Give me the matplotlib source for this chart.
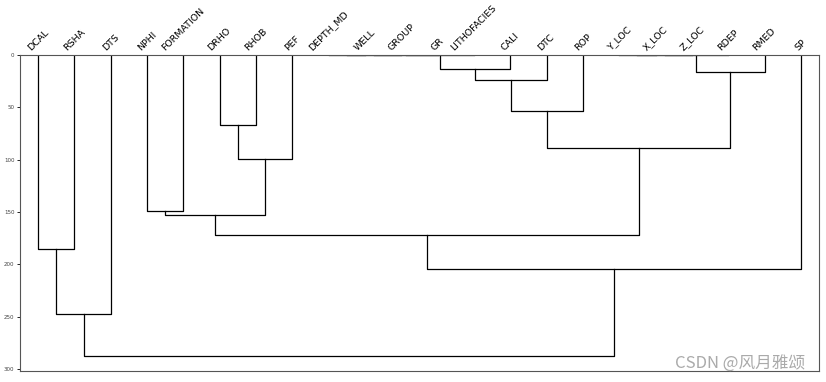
import matplotlib.pyplot as plt

# 열 이름 (덴드로그램 잎 순서)
labels = ['DCAL', 'RSHA', 'DTS', 'NPHI', 'FORMATION', 'DRHO', 'RHOB', 'PEF',
          'DEPTH_MD', 'WELL', 'GROUP', 'GR', 'LITHOFACIES', 'CALI', 'DTC', 'ROP',
          'Y_LOC', 'X_LOC', 'Z_LOC', 'RDEP', 'RMED', 'SP']

# 병합 단계 (scipy linkage 방식: 새 클러스터 번호 = 잎 개수 + 단계)
merge_left = [8, 22, 23, 24, 16, 26, 27, 25, 28, 29, 31, 5, 32, 33, 3, 36, 37, 0, 38, 39, 41]
merge_right = [9, 10, 11, 12, 17, 18, 19, 13, 20, 14, 15, 6, 30, 7, 4, 35, 34, 1, 21, 2, 40]
merge_height = [0, 0, 0, 0, 0, 0, 0, 13.4, 16.3, 23.9, 53.5, 66.9, 88.9, 99.4,
                149.4, 153.0, 171.8, 185.2, 204.9, 247.9, 287.5]

if __name__ == "__main__":
    n = len(labels)
    pos = {i: 5 + 10 * i for i in range(n)}
    hgt = {i: 0.0 for i in range(n)}

    fig = plt.figure(figsize=(8.26, 3.82), dpi=100)
    ax = fig.add_axes([20 / 826, 11 / 382, 799 / 826, 316 / 382])

    for k, (a, b, h) in enumerate(zip(merge_left, merge_right, merge_height)):
        xa, xb = pos[a], pos[b]
        ax.plot([xa, xa, xb, xb], [hgt[a], h, h, hgt[b]], color='black', lw=0.9)
        pos[n + k] = (xa + xb) / 2
        hgt[n + k] = h

    ax.set_xlim(0, 10 * n)
    ax.set_ylim(max(merge_height) * 1.05, 0)

    ax.xaxis.tick_top()
    ax.set_xticks([5 + 10 * i for i in range(n)])
    ax.set_xticklabels(labels, rotation=45, ha='center', fontsize=6.8)
    ax.tick_params(axis='x', length=0, pad=2)
    ax.set_yticks([0, 50, 100, 150, 200, 250, 300])
    ax.tick_params(axis='y', labelsize=4, length=2, width=0.6, pad=2, labelcolor='#444444')
    for s in ax.spines.values():
        s.set_color('#555555')
        s.set_linewidth(0.8)

    fig.text(805 / 826, 13 / 382, 'CSDN @风月雅颂', ha='right', va='baseline',
             fontsize=12, color='#aaaaaa', family=['Noto Sans CJK SC', 'DejaVu Sans'])

    plt.savefig('out.png')
